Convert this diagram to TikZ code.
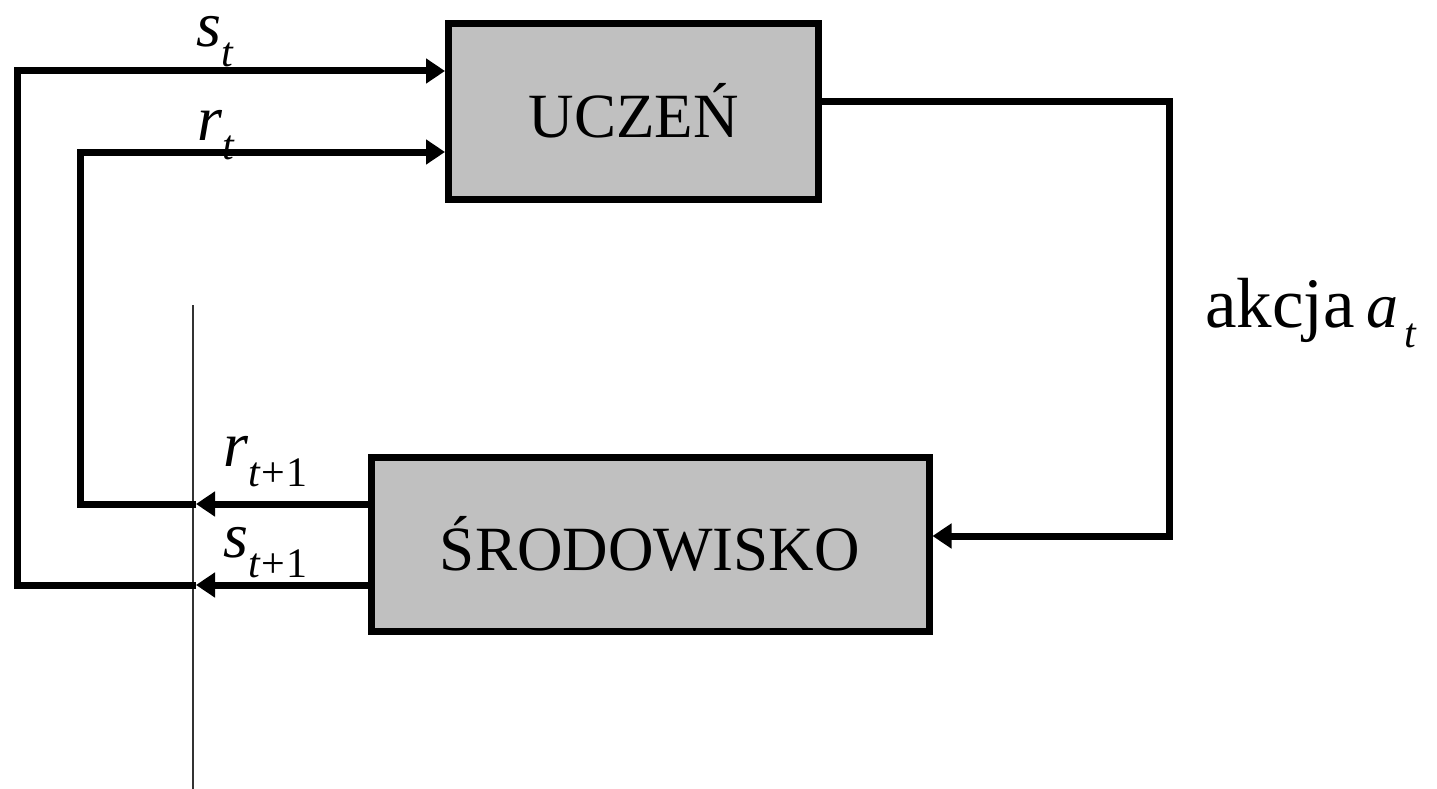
\documentclass[tikz,border=0pt]{standalone}
\usepackage{fontspec}
\setmainfont{Liberation Serif}
\usetikzlibrary{arrows.meta}
\definecolor{boxgray}{HTML}{C0C0C0}
\newcommand{\mlab}[3][0pt]{{\fontsize{64}{64}\selectfont\itshape #2}\kern#1\raisebox{-20pt}{\fontsize{42}{42}\selectfont #3}}
\begin{document}
\begin{tikzpicture}[x=1pt,y=-1pt,
  box/.style={draw, line width=7pt, fill=boxgray, rectangle, line join=miter, inner sep=0pt,
              font=\fontsize{63}{63}\selectfont, text height=52pt, text depth=0pt},
  conn/.style={line width=7pt, line join=miter},
  tipend/.style={-{Triangle[length=19pt,width=24pt]}},
  lab/.style={anchor=base west, inner sep=0pt},
  guide/.style={line width=1.2pt, black!80}]
\useasboundingbox (0,0) rectangle (1437,789);

% guide line
\coordinate (g1) at (193,305);
\coordinate (g2) at (193,789);
\draw[guide] (g1) -- (g2);

% boxes
\node[box, minimum width=370pt, minimum height=176pt] (U) at (633.5,111.5) {UCZEŃ};
\node[box, minimum width=558pt, minimum height=174pt] (S) at (650,544) {ŚRODOWISKO};

% corner coordinates
\coordinate (sL) at (17,585);
\coordinate (sT) at (17,71);
\coordinate (rL) at (80,504);
\coordinate (rT) at (80,152);
\coordinate (sM) at (196,585);
\coordinate (rM) at (196,504);
\coordinate (aR) at (1169,102);
\coordinate (aB) at (1169,536);

% s connector
\draw[conn,tipend] (S.west |- sM) -- (sM);
\draw[conn,tipend] (sM) -- (sL) -- (sT) -- (U.west |- sT);
% r connector
\draw[conn,tipend] (S.west |- rM) -- (rM);
\draw[conn,tipend] (rM) -- (rL) -- (rT) -- (U.west |- rT);
% action connector
\draw[conn,tipend] (U.east |- aR) -- (aR) -- (aB) -- (S.east |- aB);

% labels
\node[lab] (ls) at (196,47) {\mlab{s}{\itshape t}};
\node[lab] (lr) at (197,140) {\mlab{r}{\itshape t}};
\node[lab] (lr1) at (223,466) {\mlab{r}{{\itshape t}\kern2pt+\kern1pt1}};
\node[lab] (ls1) at (223,557) {\mlab{s}{{\itshape t}\kern2pt+\kern1pt1}};
\node[lab] (la) at (1205,327) {\fontsize{71}{71}\selectfont akcja\hspace{12pt}\mlab[6pt]{a}{\itshape t}};
\end{tikzpicture}
\end{document}
